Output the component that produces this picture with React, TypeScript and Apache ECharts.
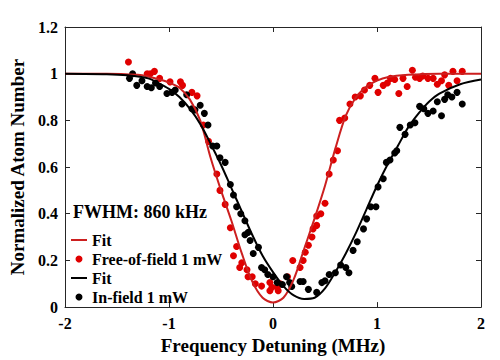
import React, { useEffect, useRef } from "react";
import * as echarts from "echarts";

const xTicks = { min: -2, max: 2, interval: 1 };
const yTicks = { min: 0, max: 1.2, interval: 0.2 };

const redFitX = [-2, -1.6, -1.3, -1.2, -1.1, -1.0, -0.9, -0.8, -0.7, -0.6, -0.5, -0.4, -0.3, -0.2, -0.1, 0, 0.1, 0.2, 0.3, 0.4, 0.5, 0.6, 0.7, 0.8, 0.9, 1.0, 1.1, 1.3, 1.6, 2];
const redFitY = [1, 1, 0.995, 0.988, 0.976, 0.962, 0.94, 0.89, 0.8, 0.64, 0.5, 0.37, 0.23, 0.11, 0.04, 0.02, 0.04, 0.12, 0.25, 0.38, 0.52, 0.68, 0.82, 0.9, 0.945, 0.97, 0.985, 0.995, 1, 1];

const blackFitX = [-2, -1.6, -1.4, -1.2, -1.1, -1.0, -0.9, -0.8, -0.7, -0.6, -0.5, -0.4, -0.3, -0.2, -0.1, 0, 0.1, 0.2, 0.3, 0.4, 0.5, 0.6, 0.7, 0.8, 0.9, 1.0, 1.1, 1.2, 1.3, 1.4, 1.5, 1.6, 1.8, 2];
const blackFitY = [1, 0.998, 0.993, 0.98, 0.96, 0.935, 0.9, 0.85, 0.785, 0.7, 0.61, 0.51, 0.41, 0.31, 0.22, 0.15, 0.09, 0.05, 0.035, 0.04, 0.08, 0.15, 0.23, 0.32, 0.42, 0.52, 0.61, 0.69, 0.77, 0.83, 0.88, 0.915, 0.955, 0.975];

const freeX = [-1.39, -1.21, -1.14, -1.18, -1.09, -0.99, -0.89, -0.87, -0.78, -0.73, -0.67, -0.62, -0.54, -0.51, -0.46, -0.41, -0.35, -0.38, -0.3, -0.32, -0.25, -0.24, -0.2, -0.17, -0.11, -0.01, 0.07, 0.05, -0.03, 0.04, -0.03, 0.14, 0.19, 0.26, 0.29, 0.31, 0.34, 0.375, 0.385, 0.42, 0.42, 0.46, 0.5, 0.54, 0.58, 0.62, 0.64, 0.69, 0.74, 0.79, 0.84, 0.88, 0.93, 0.98, 1.01, 1.06, 1.1, 1.13, 1.17, 1.21, 1.25, 1.29, 1.34, 1.37, 1.41, 1.44, 1.49, 1.54, 1.58, 1.62, 1.65, 1.69, 1.73, 1.77, 1.82];
const freeY = [1.05, 1.0, 1.01, 1.0, 0.98, 0.965, 0.965, 0.95, 0.92, 0.905, 0.78, 0.71, 0.57, 0.5, 0.44, 0.34, 0.26, 0.22, 0.19, 0.17, 0.16, 0.13, 0.13, 0.1, 0.09, 0.085, 0.1, 0.07, 0.07, 0.085, 0.105, 0.13, 0.2, 0.17, 0.2, 0.235, 0.265, 0.3, 0.335, 0.35, 0.39, 0.4, 0.445, 0.57, 0.63, 0.67, 0.8, 0.81, 0.87, 0.9, 0.905, 0.93, 0.95, 0.98, 0.92, 0.95, 0.96, 0.98, 0.975, 0.915, 0.98, 0.945, 1.015, 0.985, 0.98, 0.99, 0.98, 0.98, 0.955, 0.97, 0.995, 0.95, 1.01, 0.97, 1.01];

const inX = [-1.38, -1.35, -1.31, -1.26, -1.21, -1.17, -1.13, -1.09, -1.02, -0.97, -0.94, -0.875, -0.83, -0.78, -0.75, -0.7, -0.66, -0.625, -0.58, -0.54, -0.51, -0.46, -0.41, -0.38, -0.35, -0.31, -0.27, -0.24, -0.27, -0.22, -0.19, -0.14, -0.11, -0.08, -0.05, 0.0, 0.04, 0.09, 0.13, 0.16, 0.18, 0.26, 0.29, 0.34, 0.42, 0.47, 0.5, 0.54, 0.6, 0.65, 0.7, 0.73, 0.77, 0.81, 0.87, 0.9, 0.94, 0.99, 1.01, 1.06, 1.09, 1.125, 1.17, 1.19, 1.22, 1.27, 1.32, 1.365, 1.41, 1.45, 1.49, 1.54, 1.58, 1.62, 1.65, 1.68, 1.72, 1.77, 1.82];
const inY = [0.98, 1.0, 0.95, 0.97, 0.945, 0.94, 0.96, 0.945, 0.915, 0.92, 0.93, 0.87, 0.91, 0.85, 0.845, 0.865, 0.83, 0.78, 0.69, 0.69, 0.64, 0.62, 0.525, 0.48, 0.43, 0.4, 0.37, 0.32, 0.31, 0.285, 0.23, 0.256, 0.17, 0.16, 0.14, 0.13, 0.105, 0.097, 0.13, 0.105, 0.088, 0.11, 0.11, 0.076, 0.063, 0.105, 0.113, 0.14, 0.147, 0.18, 0.17, 0.147, 0.243, 0.28, 0.335, 0.378, 0.43, 0.43, 0.515, 0.55, 0.62, 0.63, 0.66, 0.67, 0.77, 0.74, 0.78, 0.79, 0.86, 0.85, 0.83, 0.84, 0.88, 0.82, 0.89, 0.91, 0.9, 0.92, 0.87];

const zip = (xs: number[], ys: number[]) => xs.map((x, i) => [x, ys[i]]);

const FONT = "'Liberation Serif', 'Times New Roman', serif";
const AXIS_COLOR = "#262626";
const RED = "#e00000";
const RED_LINE = "#cc1f1f";

export default function App() {
  const ref = useRef<HTMLDivElement>(null);
  useEffect(() => {
    if (!ref.current) return;
    const chart = echarts.init(ref.current, undefined, { renderer: "svg" });
    const axisCommon = {
      axisLine: { show: true, onZero: false, lineStyle: { color: AXIS_COLOR, width: 1 } },
      axisTick: { show: true, inside: true, length: 5, lineStyle: { color: AXIS_COLOR } },
      splitLine: { show: false },
    };
    chart.setOption({
      animation: false,
      backgroundColor: "#ffffff",
      grid: { left: 65, right: 19, top: 27, bottom: 47, containLabel: false },
      xAxis: [
        {
          type: "value",
          ...xTicks,
          ...axisCommon,
          position: "bottom",
          name: "Frequency Detuning (MHz)",
          nameLocation: "middle",
          nameGap: 27,
          nameTextStyle: { fontFamily: FONT, fontWeight: "bold", fontSize: 19, color: "#000" },
          axisLabel: { fontFamily: FONT, fontWeight: "bold", fontSize: 16, color: "#000", margin: 8 },
        },
        {
          type: "value",
          ...xTicks,
          ...axisCommon,
          position: "top",
          axisLabel: { show: false },
        },
      ],
      yAxis: [
        {
          type: "value",
          ...yTicks,
          ...axisCommon,
          position: "left",
          name: "Normalized Atom Number",
          nameLocation: "middle",
          nameGap: 38,
          nameTextStyle: { fontFamily: FONT, fontWeight: "bold", fontSize: 19, color: "#000" },
          axisLabel: { fontFamily: FONT, fontWeight: "bold", fontSize: 16, color: "#000", margin: 7 },
        },
        {
          type: "value",
          ...yTicks,
          ...axisCommon,
          position: "right",
          axisLabel: { show: false },
        },
      ],
      legend: {
        orient: "vertical",
        left: 70,
        top: 232,
        itemWidth: 16,
        itemHeight: 7,
        itemGap: 3,
        padding: 0,
        textStyle: { fontFamily: FONT, fontWeight: "bold", fontSize: 16, color: "#000" },
        data: [
          { name: "Fit", itemStyle: { opacity: 0 } },
          { name: "Free-of-field 1 mW", icon: "circle" },
          { name: "Fit ", itemStyle: { opacity: 0 } },
          { name: "In-field 1 mW", icon: "circle" },
        ],
      },
      graphic: [
        {
          type: "text",
          left: 73,
          top: 203,
          style: { text: "FWHM: 860 kHz", font: `bold 18px ${FONT}`, fill: "#000" },
        },
      ],
      series: [
        {
          name: "Fit",
          type: "line",
          smooth: 0.3,
          showSymbol: false,
          symbol: "none",
          data: zip(redFitX, redFitY),
          lineStyle: { color: RED_LINE, width: 2 },
          itemStyle: { color: RED_LINE },
          z: 3,
        },
        {
          name: "Free-of-field 1 mW",
          type: "scatter",
          symbolSize: 7,
          data: zip(freeX, freeY),
          itemStyle: { color: RED, opacity: 1 },
          z: 2,
        },
        {
          name: "Fit ",
          type: "line",
          smooth: 0.3,
          showSymbol: false,
          symbol: "none",
          data: zip(blackFitX, blackFitY),
          lineStyle: { color: "#000", width: 2 },
          itemStyle: { color: "#000" },
          z: 3,
        },
        {
          name: "In-field 1 mW",
          type: "scatter",
          symbolSize: 7,
          data: zip(inX, inY),
          itemStyle: { color: "#000", opacity: 1 },
          z: 2,
        },
      ],
    });
    return () => chart.dispose();
  }, []);
  return <div ref={ref} style={{ width: 500, height: 360, position: "absolute", left: 0, top: 0 }} />;
}
